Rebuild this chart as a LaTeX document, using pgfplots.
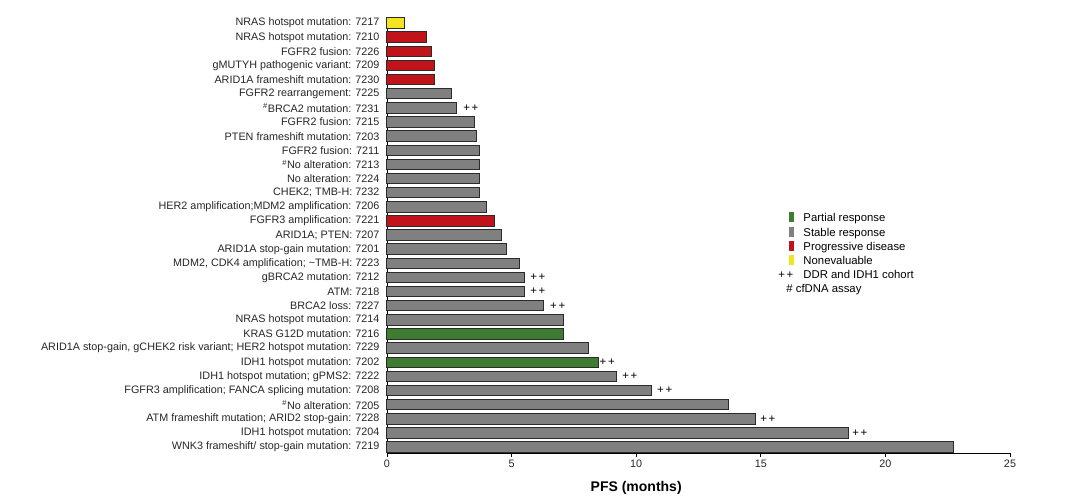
\documentclass[border=0pt]{standalone}
\usepackage{fontspec}
\setmainfont{Liberation Sans}
\usepackage{pgfplots}
\pgfplotsset{compat=1.18}
\definecolor{pgreen}{HTML}{3E7D31}
\definecolor{sgray}{HTML}{808080}
\definecolor{pred}{HTML}{C0141A}
\definecolor{nyellow}{HTML}{F2E422}
\definecolor{edge}{HTML}{2B2B2B}
\newcommand{\pp}{{\fontsize{8.6}{9.7}\selectfont +\kern1.3pt+}}
\begin{document}
\begin{tikzpicture}
\begin{axis}[
  at={(0,0)}, anchor=south west,
  scale only axis, width=467.25pt, height=326.25pt,
  xmin=0, xmax=25, ymin=-0.42, ymax=30.36,
  axis x line*=bottom, axis y line*=left,
  axis line style={line width=0.7pt, black},
  xtick={0,5,...,25}, ytick={0,...,30},
  yticklabels={
    {WNK3 frameshift/ stop-gain mutation: 7219},
    {IDH1 hotspot mutation: 7204},
    {ATM frameshift mutation; ARID2 stop-gain: 7228},
    {\textsuperscript{\#}No alteration: 7205},
    {FGFR3 amplification; FANCA splicing mutation: 7208},
    {IDH1 hotspot mutation; gPMS2: 7222},
    {IDH1 hotspot mutation: 7202},
    {ARID1A stop-gain, gCHEK2 risk variant; HER2 hotspot mutation: 7229},
    {KRAS G12D mutation: 7216},
    {NRAS hotspot mutation: 7214},
    {BRCA2 loss: 7227},
    {ATM: 7218},
    {gBRCA2 mutation: 7212},
    {MDM2, CDK4 amplification; \textasciitilde TMB-H: 7223},
    {ARID1A stop-gain mutation: 7201},
    {ARID1A; PTEN: 7207},
    {FGFR3 amplification: 7221},
    {HER2 amplification;MDM2 amplification: 7206},
    {CHEK2; TMB-H: 7232},
    {No alteration: 7224},
    {\textsuperscript{\#}No alteration: 7213},
    {FGFR2 fusion: 7211},
    {PTEN frameshift mutation: 7203},
    {FGFR2 fusion: 7215},
    {\textsuperscript{\#}BRCA2 mutation: 7231},
    {FGFR2 rearrangement: 7225},
    {ARID1A frameshift mutation: 7230},
    {gMUTYH pathogenic variant: 7209},
    {FGFR2 fusion: 7226},
    {NRAS hotspot mutation: 7210},
    {NRAS hotspot mutation: 7217}},
  tick align=outside, major tick length=3pt,
  ytick style={draw=none},
  xtick style={line width=0.6pt, black},
  tick label style={font=\fontsize{8.1}{9.7}\selectfont, text=black!85},
  /pgf/number format/assume math mode=true,
  yticklabel style={inner sep=0pt, xshift=-2.5pt},
  xticklabel style={inner sep=0pt, yshift=-2pt},
  xlabel={\textbf{PFS (months)}},
  xlabel style={at={(axis description cs:0.4,0)}, anchor=center, yshift=-26pt, font=\fontsize{10.5}{12}\selectfont},
  legend style={at={(axis description cs:0.6276,0.554)}, anchor=north west,
    draw=none, fill=none, inner sep=0pt, column sep=7pt, row sep=0pt,
    font=\fontsize{8.5}{10}\selectfont,
    nodes={inner sep=0pt, text height=7pt, text depth=3.5pt}},
  legend cell align=left,
  clip=false,
]
\addplot[xbar, bar width=0.74, bar shift=0pt, fill=pgreen, draw=edge, line width=0.75pt,
  legend image code/.code={\fill[pgreen] (-3pt,-1.6pt) rectangle (0pt,5.1pt);}]
  coordinates {(8.5,6) (7.1,8)};
\addlegendentry{Partial response}
\addplot[xbar, bar width=0.74, bar shift=0pt, fill=sgray, draw=edge, line width=0.75pt,
  legend image code/.code={\fill[sgray] (-3pt,-1.6pt) rectangle (0pt,5.1pt);}]
  coordinates {(22.75,0) (18.5,1) (14.8,2) (13.7,3) (10.6,4) (9.2,5) (8.1,7)
   (7.1,9) (6.3,10) (5.5,11) (5.5,12) (5.3,13) (4.8,14) (4.6,15) (4.0,17)
   (3.7,18) (3.7,19) (3.7,20) (3.7,21) (3.6,22) (3.5,23) (2.8,24) (2.6,25)};
\addlegendentry{Stable response}
\addplot[xbar, bar width=0.74, bar shift=0pt, fill=pred, draw=edge, line width=0.75pt,
  legend image code/.code={\fill[pred] (-3pt,-1.6pt) rectangle (0pt,5.1pt);}]
  coordinates {(4.3,16) (1.9,26) (1.9,27) (1.8,28) (1.6,29)};
\addlegendentry{Progressive disease}
\addplot[xbar, bar width=0.74, bar shift=0pt, fill=nyellow, draw=edge, line width=0.75pt,
  legend image code/.code={\fill[nyellow] (-3pt,-1.6pt) rectangle (0pt,5.1pt);}]
  coordinates {(0.7,30)};
\addlegendentry{Nonevaluable}
\addplot[draw=none, mark=none, forget plot, nodes near coords={\pp},
  every node near coord/.append style={anchor=west, inner sep=0pt,
    font=\fontsize{8.1}{9.7}\selectfont, text=black}]
  coordinates {(18.66,1) (14.97,2) (10.83,4) (9.43,5) (8.52,6) (6.54,10)
   (5.74,11) (5.74,12) (3.05,24)};
\addlegendimage{legend image code/.code={\node[anchor=east,inner sep=0pt] at (0pt,0pt) {\pp};}}
\addlegendentry{DDR and IDH1 cohort}
\addlegendimage{legend image code/.code={}}
\addlegendentry{\hspace*{-12.75pt}\# cfDNA assay}
\end{axis}
\pgfresetboundingbox
\useasboundingbox (-290.25pt,-36pt) rectangle (519.75pt,339.75pt);
\end{tikzpicture}
\end{document}
